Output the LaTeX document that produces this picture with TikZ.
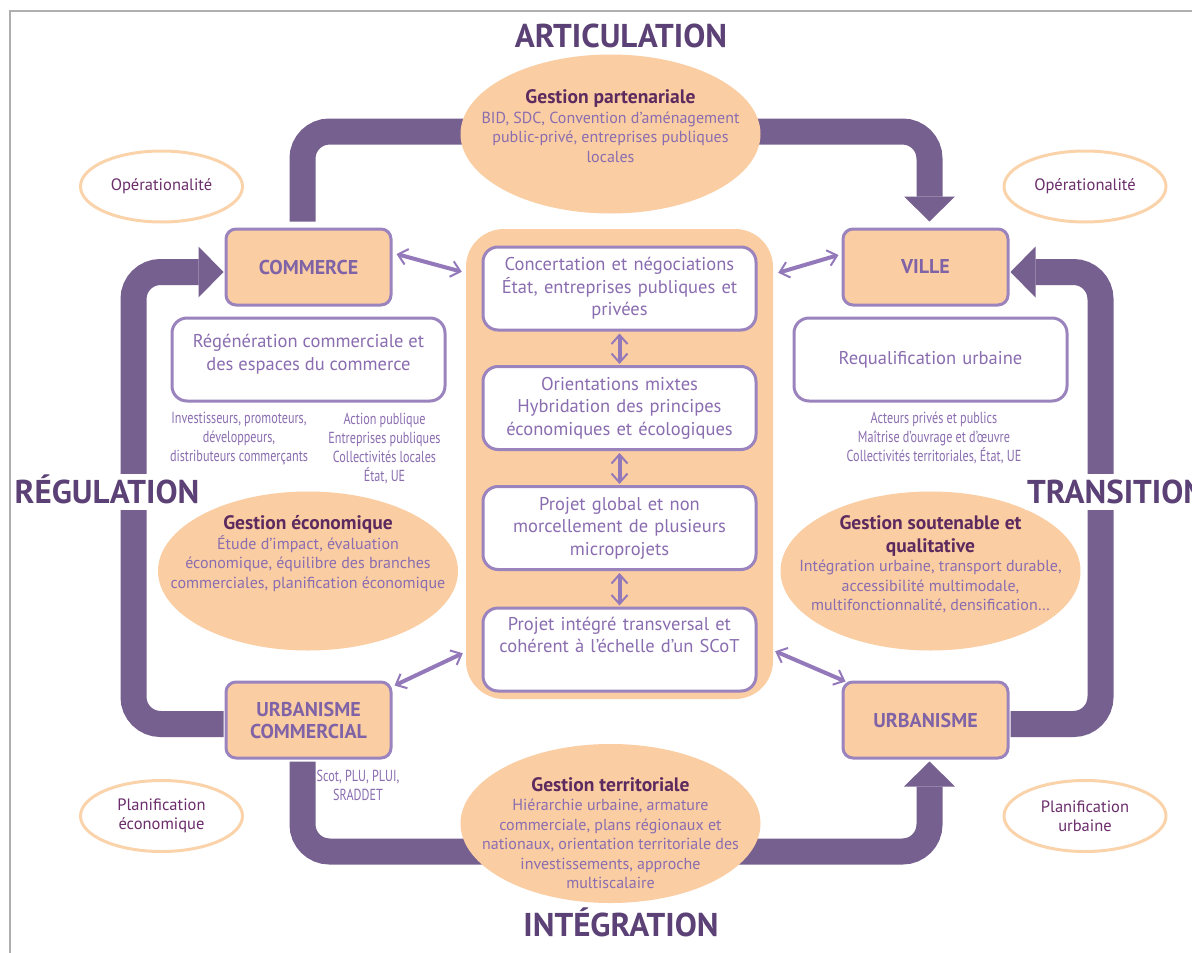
\documentclass[tikz,border=0pt]{standalone}
\usepackage{fontspec}
\setmainfont{PT Sans}
\newfontfamily\narrowfont[FakeStretch=0.76]{PT Sans}
\usetikzlibrary{shapes.geometric, arrows.meta, backgrounds}

\definecolor{loopc}{HTML}{76608F}
\definecolor{titlec}{HTML}{5B4175}
\definecolor{headc}{HTML}{5C2A5E}
\definecolor{bodyc}{HTML}{8A6DB0}
\definecolor{boxline}{HTML}{9B83BE}
\definecolor{polec}{HTML}{7F63A6}
\definecolor{peach}{HTML}{FACDA2}
\definecolor{ringc}{HTML}{FBD3AA}
\definecolor{notec}{HTML}{6B2D6B}
\definecolor{framec}{HTML}{AFAFAF}
\definecolor{linkc}{HTML}{9479BA}

\newcommand{\gesthead}[1]{{\fontsize{19.5}{20}\selectfont\bfseries\color{headc}#1}}

\tikzset{
  title/.style={font=\fontsize{33}{36}\selectfont\bfseries, text=titlec, text height=23pt, text depth=0pt},
  pole/.style={draw=boxline, line width=3pt, fill=peach, rounded corners=10pt, minimum width=165pt, minimum height=76pt,
    font=\fontsize{20}{22}\selectfont\bfseries, text=polec, align=center},
  stagebox/.style={draw=boxline, line width=3pt, fill=white, rounded corners=15pt, minimum width=273pt, minimum height=83pt,
    font=\fontsize{18.5}{22.5}\selectfont, text=bodyc, align=center, text width=265pt},
  gestion/.style={ellipse, fill=peach, minimum width=300pt, minimum height=159pt, inner sep=0pt},
  gesttext/.style={font=\fontsize{16}{19.5}\selectfont, text=bodyc, align=center, inner sep=0pt},
  note/.style={ellipse, draw=ringc, line width=3pt, fill=white, minimum width=162pt, minimum height=71pt,
    font=\fontsize{16.5}{19}\selectfont, text=notec, align=center, inner sep=0pt},
  actors/.style={font=\narrowfont\fontsize{16}{19}\selectfont, text=bodyc, align=center, inner sep=0pt},
  loop/.style={draw=loopc, line width=26pt, rounded corners=27pt, -{Triangle[length=25pt, width=51pt, line width=0pt]}},
  link/.style={draw=linkc, line width=4pt, {Straight Barb[length=9pt, width=16pt, line width=2pt]}-{Straight Barb[length=9pt, width=16pt, line width=2pt]}},
}

\begin{document}
\begin{tikzpicture}[x=1pt, y=-1pt]
\useasboundingbox (0,0) rectangle (1192,953);

% Frame
\draw[framec, line width=2pt] (1192,11) -- (10,11) -- (10,953);

% Central column
\node[fill=peach, rounded corners=38pt, minimum width=307pt, minimum height=470pt] (core) at (619.5,464) {};
\node[stagebox] (stage1) at (619.5,288.5) {Concertation et négociations\\État, entreprises publiques et\\privées};
\node[stagebox] (stage2) at (619.5,408) {Orientations mixtes\\Hybridation des principes\\économiques et écologiques};
\node[stagebox] (stage3) at (619.5,528) {Projet global et non\\morcellement de plusieurs\\microprojets};
\node[stagebox] (stage4) at (619.5,649.5) {Projet intégré transversal et\\cohérent à l’échelle d’un SCoT\\\strut};

% Poles
\node[pole] (commerce) at (308.5,267) {\raisebox{-3pt}{COMMERCE}};
\node[pole] (ville) at (925.5,267) {\raisebox{-3pt}{VILLE}};
\node[pole] (urbcom) at (308.5,720) {URBANISME\\COMMERCIAL};
\node[pole] (urb) at (925.5,720) {\raisebox{-2pt}{URBANISME}};

% Side boxes
\node[stagebox] (regen) at (308.5,359.5) {};
\node[gesttext, font=\fontsize{18.5}{22.5}\selectfont] (regentext) at (308.5,354) {Régénération commerciale et\\des espaces du commerce};
\node[stagebox] (requal) at (930.5,359.5) {Requalification urbaine};

% Actors
\node[actors] (actleft) at (239,438) {Investisseurs, promoteurs,\\développeurs,\\distributeurs commerçants};
\node[actors] (actpub) at (384.5,448) {Action publique\\Entreprises publiques\\Collectivités locales\\État, UE};
\node[actors] (actville) at (934,438) {Acteurs privés et publics\\Maîtrise d’ouvrage et d’œuvre\\Collectivités territoriales, État, UE};
\node[actors] (actplan) at (358,785) {Scot, PLU, PLUI,\\SRADDET};

% Gestion ellipses
\node[gestion] (partell) at (610.5,134) {};
\node[gesttext] (parttext) at (610.5,126) {\gesthead{Gestion partenariale}\\BID, SDC, Convention d’aménagement\\public-privé, entreprises publiques\\locales};
\node[gestion] (ecoell) at (308,571) {};
\node[gesttext] (ecotext) at (308,553.5) {\gesthead{Gestion économique}\\Étude d’impact, évaluation\\économique, équilibre des branches\\commerciales, planification économique};
\node[gestion] (soutell) at (930.5,571) {};
\node[gesttext] (souttext) at (930.5,564.5) {\gesthead{Gestion soutenable et}\\[3pt]\gesthead{qualitative}\\Intégration urbaine, transport durable,\\accessibilité multimodale,\\multifonctionnalité, densification…};
\node[gestion] (terrell) at (610.5,823.5) {};
\node[gesttext] (terrtext) at (610.5,833) {\gesthead{Gestion territoriale}\\Hiérarchie urbaine, armature\\commerciale, plans régionaux et\\nationaux, orientation territoriale des\\investissements, approche\\multiscalaire};

% Notes
\node[note] (opleft) at (161.5,186.5) {Opérationalité};
\node[note] (opright) at (1085,186.5) {Opérationalité};
\node[note] (planeco) at (161.5,816) {Planification\\économique};
\node[note] (planurb) at (1085,816) {Planification\\urbaine};

% Big loop arrows
\begin{scope}[on background layer]
  \fill[white] (0,0) rectangle (1192,953);
  \draw[loop] ([shift={(-6,-6)}]commerce.north) -- ++(0,-90) -| ([shift={(4,-6)}]ville.north);
  \draw[loop] ([shift={(1,4)}]urb.east) -- ++(90,0) |- ([shift={(1,5)}]ville.east);
  \draw[loop] ([shift={(-6,2)}]urbcom.south) -- ++(0,90) -| ([shift={(4,2)}]urb.south);
  \draw[loop] ([shift={(-1,4)}]urbcom.west) -- ++(-90,0) |- ([shift={(-1,5)}]commerce.west);
\end{scope}

% Loop labels
\node[title] (articulation) at (621,36) {ARTICULATION};
\node[title] (integration) at (621,925) {INTÉGRATION};
\node[title, fill=white, inner xsep=2pt, inner ysep=6.5pt] (regulation) at (107,492) {RÉGULATION};
\node[title, fill=white, inner xsep=2pt, inner ysep=6.5pt, anchor=west] (transition) at (1025,492) {TRANSITION};

% Links
\draw[link] ([shift={(4,-13)}]commerce.east) -- ([shift={(-4,43)}]core.north west);
\draw[link] ([shift={(-3,-12)}]ville.west) -- ([shift={(5,44)}]core.north east);
\draw[link] ([shift={(2,5)}]urbcom.north east) -- ([shift={(-3,-46)}]core.south west);
\draw[link] ([shift={(2,-48)}]core.south east) -- ([shift={(4,1)}]urb.north west);
\draw[link] ([yshift=-2pt]stage1.south) -- ([yshift=1pt]stage2.north);
\draw[link] ([yshift=-2pt]stage2.south) -- ([yshift=1pt]stage3.north);
\draw[link] ([yshift=-2pt]stage3.south) -- ([yshift=1pt]stage4.north);
\end{tikzpicture}
\end{document}
